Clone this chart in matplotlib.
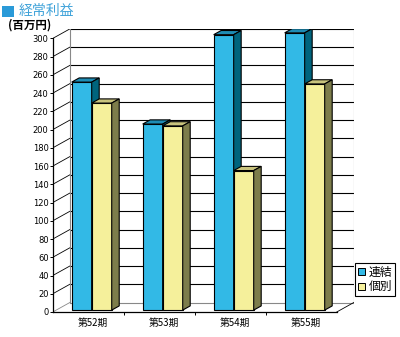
import matplotlib
matplotlib.use("Agg")
import matplotlib.pyplot as plt
from matplotlib.patches import Polygon, Patch, Rectangle

# ---- data ----
categories = ["第52期", "第53期", "第54期", "第55期"]
consolidated = [250, 204, 302, 304]   # 連結
individual = [227, 202, 153, 248]     # 個別
series_names = ["連結", "個別"]
yticks = list(range(0, 301, 20))
title = "経常利益"
unit_label = "(百万円)"

# ---- style ----
CJK = ["Noto Sans CJK JP", "DejaVu Sans"]
plt.rcParams["font.family"] = ["DejaVu Sans"]
blue_front, blue_top, blue_side = "#32B9E6", "#1E8CB4", "#00647D"
yel_front, yel_top, yel_side = "#F5F09B", "#C8C37D", "#7D7D4B"

n = len(categories)
depth_x, depth_y = 0.24, 10.4        # wall depth in data units
bar_w = 0.282
f0 = 0.2                              # bars placed this far into depth
fb = 0.44                             # bar depth as fraction of wall depth
ymax = yticks[-1]

fig = plt.figure(figsize=(4.0, 3.37), dpi=100)
ax = fig.add_axes([0.132, 0.0742, 0.7525, 0.840])
ax.set_xlim(-0.5, n - 0.5 + depth_x)
ax.set_ylim(0, ymax + depth_y)

xl, xr = -0.5, n - 0.5
# back wall
for v in yticks:
    c = "#888888" if v == 0 else "black"
    ax.plot([xl + depth_x, xr + depth_x], [v + depth_y, v + depth_y],
            color=c, lw=0.8, zorder=0.5, solid_capstyle="butt")
    ax.plot([xl, xl + depth_x], [v, v + depth_y], color=c, lw=0.6, zorder=0.5)
ax.plot([xl + depth_x] * 2, [depth_y, ymax + depth_y], color="#888888", lw=0.8, zorder=0.6)
ax.plot([xr + depth_x] * 2, [depth_y, ymax + depth_y], color="#888888", lw=0.8, zorder=0.6)
ax.plot([xr, xr + depth_x], [0, depth_y], color="black", lw=0.6, zorder=0.6)

# bars
def draw_bar(x0, v, front, top, side):
    dx0, dy0 = f0 * depth_x, f0 * depth_y
    ddx, ddy = fb * depth_x, fb * depth_y
    x0 = x0 + dx0
    ax.bar(x0, v, width=bar_w, bottom=dy0, align="edge", color=front,
           edgecolor="black", linewidth=0.8, zorder=3)
    ax.add_patch(Polygon([(x0, dy0 + v), (x0 + bar_w, dy0 + v),
                          (x0 + bar_w + ddx, dy0 + v + ddy), (x0 + ddx, dy0 + v + ddy)],
                         closed=True, facecolor=top, edgecolor="black", lw=0.8, zorder=3))
    ax.add_patch(Polygon([(x0 + bar_w, dy0), (x0 + bar_w + ddx, dy0 + ddy),
                          (x0 + bar_w + ddx, dy0 + v + ddy), (x0 + bar_w, dy0 + v)],
                         closed=True, facecolor=side, edgecolor="black", lw=0.8, zorder=3))

for i in range(n):
    draw_bar(i - bar_w, consolidated[i], blue_front, blue_top, blue_side)
    draw_bar(i, individual[i], yel_front, yel_top, yel_side)

# axes
for s in ["top", "right"]:
    ax.spines[s].set_visible(False)
ax.spines["left"].set_bounds(0, ymax)
ax.spines["bottom"].set_bounds(xl, xr)
ax.spines["left"].set_linewidth(0.9)
ax.spines["bottom"].set_linewidth(0.9)
ax.set_yticks(yticks)
ax.set_yticklabels([str(v) for v in yticks])
ax.tick_params(axis="y", length=2.2, width=0.7, pad=0.8, labelsize=6)
ax.set_xticks([i + 0.5 for i in range(n - 1)])
ax.set_xticklabels([])
ax.tick_params(axis="x", which="major", length=2.2, width=0.7)
ax.set_xticks([i + 0.06 for i in range(n)], minor=True)
ax.set_xticklabels(categories, minor=True, fontsize=7, family=CJK)
ax.tick_params(axis="x", which="minor", length=0, pad=4)

# legend
handles = [Patch(facecolor=blue_front, edgecolor="black", lw=0.7),
           Patch(facecolor=yel_front, edgecolor="black", lw=0.7)]
leg = fig.legend(handles, series_names, loc="upper left",
                 bbox_to_anchor=(0.8875, 0.2205), borderaxespad=0,
                 prop={"family": CJK, "size": 8.5}, handlelength=0.6,
                 handleheight=0.6, handletextpad=0.3, labelspacing=0.15,
                 borderpad=0.25, fancybox=False, framealpha=1, edgecolor="black")
leg.get_frame().set_linewidth(0.8)

# titles
fig.patches.append(Rectangle((2 / 400, 1 - 17 / 337), 11.5 / 400, 11 / 337,
                             transform=fig.transFigure, facecolor="#2A9AD8",
                             edgecolor="none"))
fig.text(19 / 400, 1 - 10.5 / 337, title, color="#3FA2D9", fontsize=10,
         family=CJK, va="center", ha="left")
fig.text(8 / 400, 1 - 25 / 337, unit_label, color="black", fontsize=8.3,
         family=CJK, weight="bold", va="center", ha="left")

fig.savefig("out.png", dpi=100)
